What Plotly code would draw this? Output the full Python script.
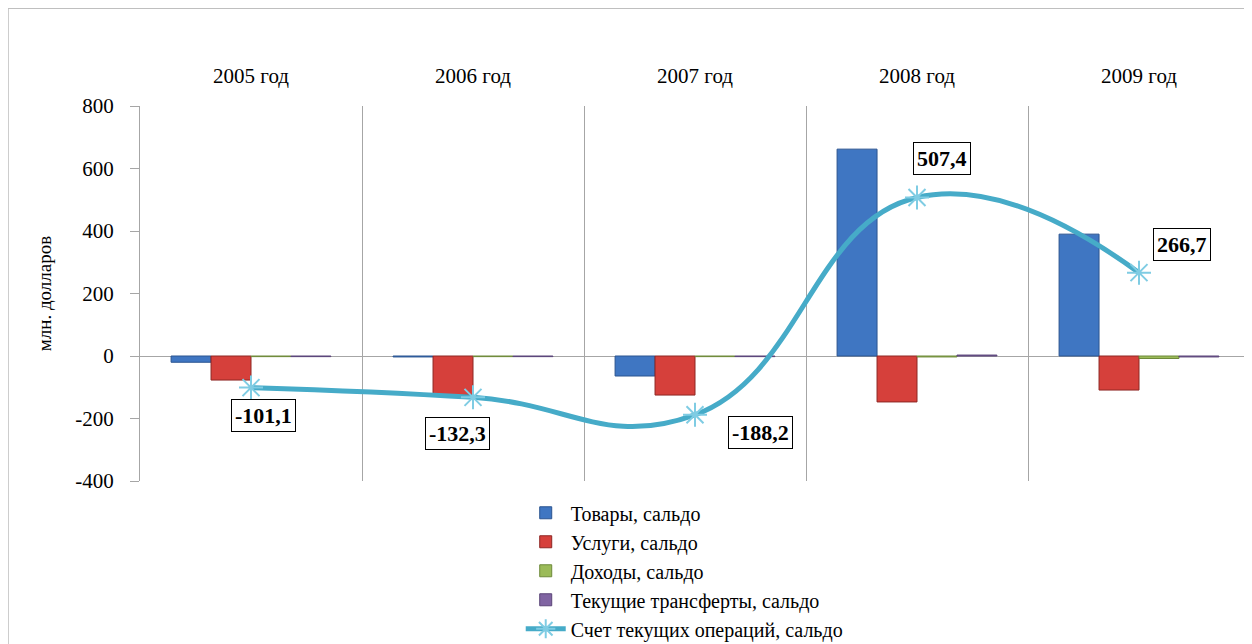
import plotly.graph_objects as go

years = ["2005 год", "2006 год", "2007 год", "2008 год", "2009 год"]
goods = [-20, -3, -64, 662, 390]
services = [-77, -125, -125, -147, -109]
income = [-2, -2, -2, -3, -8]
transfers = [-2, -2, -2, 3, -3]
current_account = [-101.1, -132.3, -188.2, 507.4, 266.7]
ca_labels = ["-101,1", "-132,3", "-188,2", "507,4", "266,7"]
label_shift_x = [12, -16, 65, 25, 43]
label_shift_y = [-28, -36, -18, 39, 28]
y_ticks = [-400, -200, 0, 200, 400, 600, 800]
y_tick_text = ["-400", "-200", "0", "200", "400", "600", "800"]

FONT = "Liberation Serif, DejaVu Serif, serif"

fig = go.Figure()
bar_specs = [
    ("Товары, сальдо", goods, "#3F76C2", "#2B5490"),
    ("Услуги, сальдо", services, "#D6403B", "#8E2623"),
    ("Доходы, сальдо", income, "#9BBB59", "#6E8A3A"),
    ("Текущие трансферты, сальдо", transfers, "#8064A2", "#5A4478"),
]
for name, vals, col, lcol in bar_specs:
    fig.add_trace(go.Bar(x=years, y=vals, name=name,
                         marker=dict(color=col, line=dict(color=lcol, width=1))))

fig.add_trace(go.Scatter(
    x=years, y=current_account, name="Счет текущих операций, сальдо",
    mode="lines+markers",
    line=dict(color="#46ABC8", width=5, shape="spline", smoothing=1.3),
    marker=dict(symbol="asterisk-open", size=20, color="#7FCCE3",
                line=dict(color="#7FCCE3", width=2)),
))

for i in range(len(years)):
    fig.add_annotation(x=years[i], y=current_account[i], text="<b>" + ca_labels[i] + "</b>",
                       showarrow=False, xshift=label_shift_x[i], yshift=label_shift_y[i],
                       font=dict(family=FONT, size=22, color="black"),
                       bordercolor="black", borderwidth=1, borderpad=3, bgcolor="white")

fig.add_shape(type="rect", xref="paper", yref="paper",
              x0=-0.1189, x1=1.0009, y0=-0.46, y1=1.261,
              line=dict(color="#BFBFBF", width=1.5), layer="below")

fig.update_layout(
    width=1244, height=636,
    margin=dict(l=132, r=2, t=98, b=163, autoexpand=False),
    paper_bgcolor="white", plot_bgcolor="white",
    barmode="group", bargap=0.28, bargroupgap=0,
    font=dict(family=FONT, size=20, color="black"),
    showlegend=True,
    legend=dict(x=0.343, y=0.237, xref="paper", yref="container",
                xanchor="left", yanchor="top",
                orientation="v", font=dict(family=FONT, size=20),
                tracegroupgap=0, itemwidth=40),
    xaxis=dict(side="top", type="category", showline=False, ticks="",
               tickson="boundaries", showgrid=True, gridcolor="#A6A6A6", gridwidth=1,
               ticklabelstandoff=18, tickfont=dict(family=FONT, size=21)),
    yaxis=dict(range=[-400, 800], tickvals=y_ticks, ticktext=y_tick_text, showgrid=False,
               showline=True, linecolor="#A6A6A6", linewidth=1,
               ticks="outside", ticklen=9, tickcolor="#A6A6A6",
               ticklabelstandoff=12,
               zeroline=True, zerolinecolor="#A6A6A6", zerolinewidth=1,
               tickfont=dict(family=FONT, size=21),
               title=dict(text="млн. долларов", standoff=18,
                          font=dict(family=FONT, size=19))),
)

fig.write_html("out.html")
